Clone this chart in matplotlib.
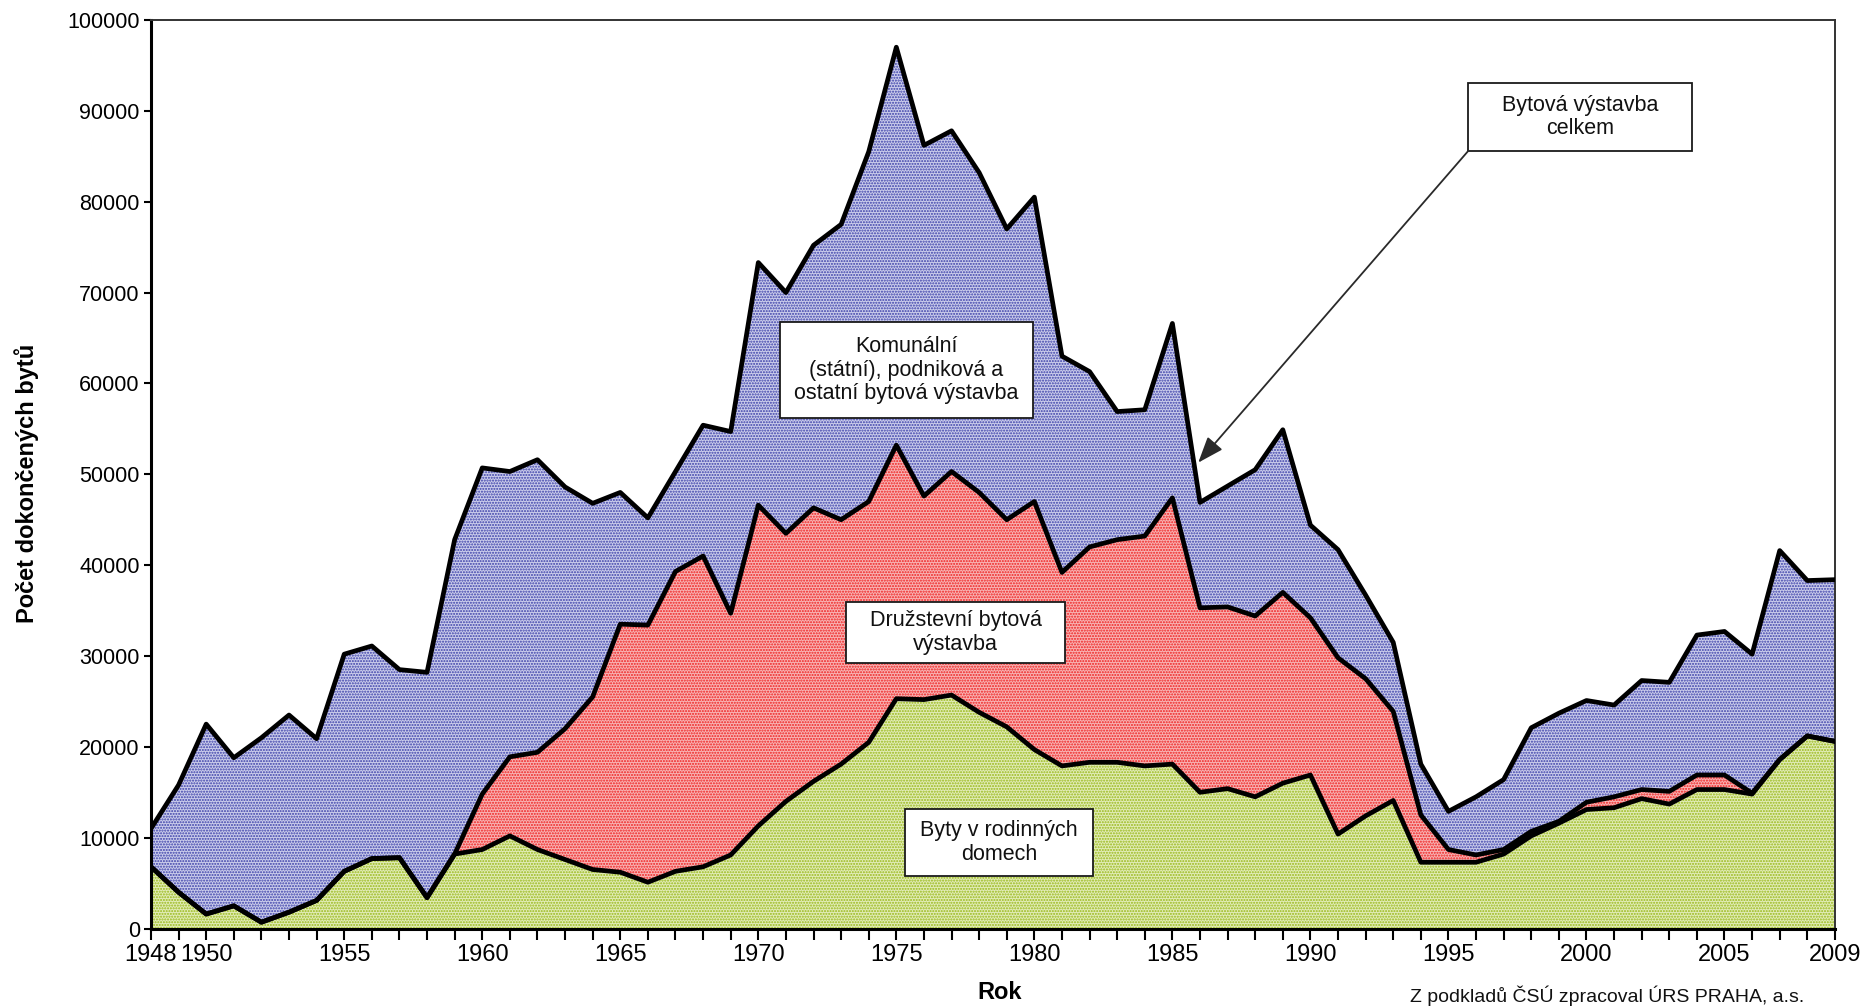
import numpy as np
import matplotlib
matplotlib.use('Agg')
from matplotlib import pyplot as plt
from matplotlib.patches import Rectangle

plt.rcParams['font.family'] = ['Liberation Sans', 'DejaVu Sans']
plt.rcParams['hatch.linewidth'] = 1.0

years = list(range(1948, 2010))

# Byty v rodinnych domech
rodinne_domy = [6800, 4000, 1600, 2500, 700, 1800, 3100, 6300, 7700, 7800,
                3400, 8200, 8700, 10200, 8700, 7600, 6500, 6200, 5100, 6300,
                6800, 8100, 11300, 14000, 16200, 18100, 20500, 25300, 25200, 25700,
                23800, 22200, 19700, 17900, 18300, 18300, 17900, 18100, 15000, 15400,
                14500, 16000, 16900, 10400, 12400, 14100, 7300, 7300, 7300, 8200,
                10200, 11600, 13100, 13300, 14300, 13700, 15300, 15300, 14800, 18600,
                21200, 20600]

# Druzstevni bytova vystavba
druzstevni = [0, 0, 0, 0, 0, 0, 0, 0, 0, 0,
              0, 0, 6100, 8700, 10700, 14400, 19000, 27300, 28300, 33000,
              34200, 26600, 35300, 29500, 30100, 26900, 26500, 27900, 22400, 24600,
              24200, 22800, 27300, 21300, 23700, 24500, 25300, 29300, 20300, 20000,
              19900, 21000, 17300, 19400, 15100, 9800, 5200, 1400, 800, 500,
              500, 200, 800, 1200, 1000, 1400, 1600, 1600, 100, 0,
              0, 0]

# Komunalni (statni), podnikova a ostatni bytova vystavba
komunalni = [4200, 11800, 20900, 16300, 20300, 21700, 17800, 23900, 23400, 20700,
             24800, 34600, 35900, 31400, 32200, 26600, 21300, 14500, 11800, 11000,
             14400, 20000, 26700, 26500, 28900, 32500, 38500, 43800, 38600, 37500,
             35200, 32000, 33500, 23800, 19300, 14100, 13900, 19200, 11600, 13300,
             16100, 17900, 10200, 11900, 9200, 7600, 5600, 4200, 6400, 7700,
             11400, 11900, 11200, 10100, 12000, 12000, 15400, 15800, 15300, 23000,
             17100, 17800]

x_labels = [1948, 1950, 1955, 1960, 1965, 1970, 1975, 1980, 1985, 1990, 1995, 2000, 2005, 2009]
y_ticks = list(range(0, 100001, 10000))

fig = plt.figure(figsize=(18.64, 10.08), dpi=100)
ax = fig.add_axes([0.0810, 0.0788, 0.9034, 0.9014])

layers = [(rodinne_domy, '#e2ecb8', '#98b818'),
          (druzstevni, '#f8b4b4', '#ee2020'),
          (komunalni, '#cbcdeb', '#3a3ea8')]
low = np.zeros(len(years))
for vals, face, dots in layers:
    high = low + np.array(vals)
    ax.fill_between(years, low, high, facecolor=face, edgecolor=dots,
                    hatch='......', linewidth=0)
    ax.plot(years, high, color='black', lw=3.4, zorder=3)
    low = high

ax.set_xlim(1948, 2009)
ax.set_ylim(0, 100000)
ax.set_xticks(years)
ax.set_xticklabels([str(y) if y in x_labels else '' for y in years])
ax.set_yticks(y_ticks)
ax.set_yticklabels([str(v) for v in y_ticks])
ax.tick_params(axis='x', direction='out', length=8, width=1.5, labelsize=17, pad=3)
ax.tick_params(axis='y', direction='out', length=5, width=1.5, labelsize=15.5, pad=3)

for side in ['left', 'bottom']:
    ax.spines[side].set_linewidth(2.2)
    ax.spines[side].set_color('black')
for side in ['top', 'right']:
    ax.spines[side].set_linewidth(1.4)
    ax.spines[side].set_color('#333333')

ax.set_xlabel('Rok', fontsize=17, fontweight='bold', va='center')
ax.xaxis.set_label_coords(0.504, -0.0709)
ax.set_ylabel('Počet dokončených bytů', fontsize=17, fontweight='bold', va='center', ha='center')
ax.yaxis.set_label_coords(-0.0736, 0.4904)

# popisky ve ramecku (axes fraction: x0, y0, x1, y1)
boxes = [('Komunální\n(státní), podniková a\nostatní bytová výstavba', (0.3735, 0.5619, 0.5238, 0.6676)),
         ('Družstevní bytová\nvýstavba', (0.4127, 0.2923, 0.5428, 0.3595)),
         ('Byty v rodinných\ndomech', (0.4477, 0.0579, 0.5594, 0.1312)),
         ('Bytová výstavba\ncelkem', (0.7824, 0.8562, 0.9153, 0.9303))]
for txt, (x0, y0, x1, y1) in boxes:
    ax.add_patch(Rectangle((x0, y0), x1 - x0, y1 - y0, transform=ax.transAxes,
                           facecolor='white', edgecolor='#1a1a1a', lw=1.3, zorder=5))
    ax.text((x0 + x1) / 2, (y0 + y1) / 2, txt, transform=ax.transAxes, ha='center', va='center',
            fontsize=15.5, linespacing=1.15, color='#111111', zorder=6)

ax.annotate('', xy=(0.6219, 0.5128), xytext=(0.7824, 0.8562), xycoords='axes fraction',
            arrowprops=dict(arrowstyle='-|>,head_length=0.8,head_width=0.3', color='#2a2a2a',
                            lw=1.3, shrinkA=0, shrinkB=0, mutation_scale=20), zorder=6)

fig.text(1607 / 1864, 1 - 1002 / 1008, 'Z podkladů ČSÚ zpracoval ÚRS PRAHA, a.s.',
         ha='center', va='baseline', fontsize=14, color='#111111')

fig.savefig('out.png', dpi=100)
